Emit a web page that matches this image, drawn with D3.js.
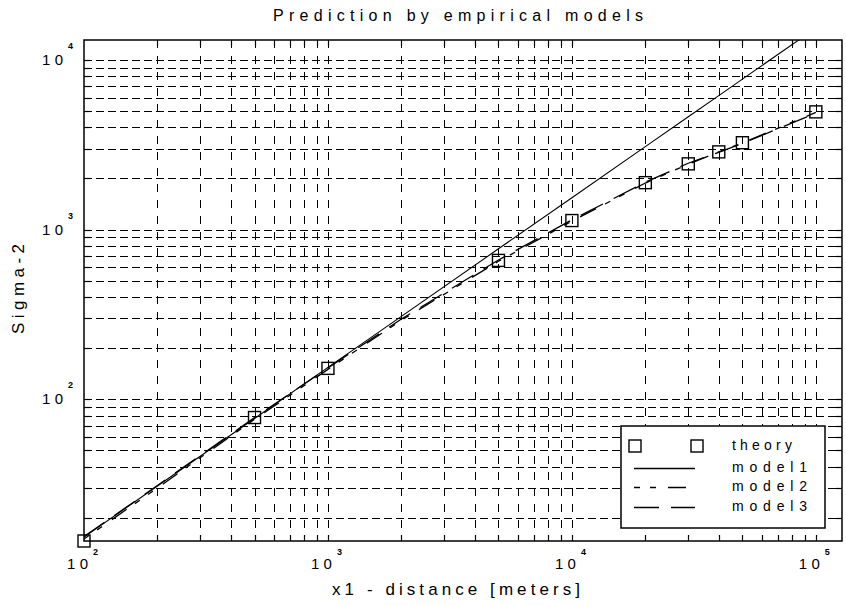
<!DOCTYPE html>
<html>
<head>
<meta charset="utf-8">
<script src="https://cdn.jsdelivr.net/npm/d3@7"></script>
<style>
  body { margin: 0; background: #fff; }
  text { font-family: "Liberation Sans", Arial, sans-serif; fill: #000; }
</style>
</head>
<body>
<div id="chart"></div>
<script>
// values
var theoryX = [100, 500, 1000, 5000, 10000, 20000, 30000, 40000, 50000, 100000];
var theoryY = [14.6, 78, 152, 658, 1130, 1890, 2440, 2870, 3250, 4940];

var modelX  = [100, 200, 500, 1000, 2000, 5000, 10000, 20000, 30000, 40000, 50000, 100000];
var model1Y = [15.4, 30.8, 77, 154, 308, 770, 1540, 3080, 4620, 6160, 7700, 15400];
var model2Y = [15.0, 30, 76, 150, 292, 650, 1120, 1880, 2430, 2870, 3240, 4900];
var model3Y = [15.5, 31, 78, 153, 297, 662, 1140, 1900, 2460, 2850, 3220, 4850];

var xDecades = [100, 1000, 10000, 100000];
var yDecades = [100, 1000, 10000];
var legendNames = ["theory", "model1", "model2", "model3"];

var width = 846, height = 606;
var margin = {top: 40, right: 4, bottom: 65, left: 84};
var x0 = margin.left, x1 = width - margin.right,
    y0 = margin.top, y1 = height - margin.bottom;

var svg = d3.select('#chart')
  .append("svg")
    .attr("width", width)
    .attr("height", height);

var x = d3.scaleLog().domain([100, 128000]).range([x0, x1]);
var y = d3.scaleLog().domain([14.6, 13100]).range([y1, y0]);

svg.append("clipPath").attr("id", "plotclip")
  .append("rect")
    .attr("x", x0).attr("y", y0)
    .attr("width", x1 - x0).attr("height", y1 - y0);

// grid
var xt = x.ticks().filter(function(d) { return x(d) > x0 + 1 && x(d) < x1 - 1; });
var yt = y.ticks().filter(function(d) { return y(d) > y0 + 1 && y(d) < y1 - 1; });

var grid = svg.append("g").attr("stroke", "#000").attr("stroke-width", 1);
grid.selectAll(".vg").data(xt).enter().append("line")
  .attr("x1", function(d) { return Math.round(x(d)) + 0.5; })
  .attr("x2", function(d) { return Math.round(x(d)) + 0.5; })
  .attr("y1", y0).attr("y2", y1)
  .attr("stroke-dasharray", "8,8");
grid.selectAll(".hg").data(yt).enter().append("line")
  .attr("y1", function(d) { return Math.round(y(d)) + 0.5; })
  .attr("y2", function(d) { return Math.round(y(d)) + 0.5; })
  .attr("x1", x0).attr("x2", x1)
  .attr("stroke-dasharray", "8,4");

// ticks inward on all four sides
var tk = svg.append("g").attr("stroke", "#000").attr("stroke-width", 1.2);
xt.forEach(function(d) {
  var px = Math.round(x(d)) + 0.5;
  tk.append("line").attr("x1", px).attr("x2", px).attr("y1", y1).attr("y2", y1 - 6);
  tk.append("line").attr("x1", px).attr("x2", px).attr("y1", y0).attr("y2", y0 + 6);
});
yt.forEach(function(d) {
  var py = Math.round(y(d)) + 0.5;
  tk.append("line").attr("y1", py).attr("y2", py).attr("x1", x0).attr("x2", x0 + 6);
  tk.append("line").attr("y1", py).attr("y2", py).attr("x1", x1).attr("x2", x1 - 6);
});

// frame
svg.append("rect")
  .attr("x", x0).attr("y", y0)
  .attr("width", x1 - x0).attr("height", y1 - y0)
  .attr("fill", "none").attr("stroke", "#000").attr("stroke-width", 1.5);

// lines
var line = d3.line()
  .x(function(d) { return x(d[0]); })
  .y(function(d) { return y(d[1]); });

var lines = svg.append("g").attr("clip-path", "url(#plotclip)")
  .attr("fill", "none").attr("stroke", "#000");

lines.append("path")
  .attr("d", line(d3.zip(modelX, model1Y)))
  .attr("stroke-width", 1.1);
lines.append("path")
  .attr("d", line(d3.zip(modelX, model2Y)))
  .attr("stroke-width", 1.3)
  .attr("stroke-dasharray", "6,10,6,12,18,10");
lines.append("path")
  .attr("d", line(d3.zip(modelX, model3Y)))
  .attr("stroke-width", 1.3)
  .attr("stroke-dasharray", "25,12");

// theory markers
svg.append("g").selectAll("rect")
  .data(d3.zip(theoryX, theoryY))
  .enter().append("rect")
    .attr("x", function(d) { return x(d[0]) - 6; })
    .attr("y", function(d) { return y(d[1]) - 6; })
    .attr("width", 12).attr("height", 12)
    .attr("fill", "none").attr("stroke", "#000").attr("stroke-width", 1.4);

// tick labels
var lab = svg.append("g");
xDecades.forEach(function(d) {
  var px = x(d);
  lab.append("text").attr("x", px + 4).attr("y", 569)
    .attr("text-anchor", "end").attr("font-size", 15)
    .attr("textLength", 21).attr("lengthAdjust", "spacing")
    .text("10");
  lab.append("text").attr("x", px + 9).attr("y", 555)
    .attr("font-size", 9).attr("font-weight", "bold")
    .text(String(Math.round(Math.log10(d))));
});
yDecades.forEach(function(d) {
  var py = y(d);
  lab.append("text").attr("x", 63).attr("y", py + 5)
    .attr("text-anchor", "end").attr("font-size", 15)
    .attr("textLength", 21).attr("lengthAdjust", "spacing")
    .text("10");
  lab.append("text").attr("x", 68).attr("y", py - 11)
    .attr("font-size", 9).attr("font-weight", "bold")
    .text(String(Math.round(Math.log10(d))));
});

// titles
svg.append("text").attr("x", 273).attr("y", 21)
  .attr("font-size", 16).attr("textLength", 370).attr("lengthAdjust", "spacing")
  .text("Prediction by empirical models");
svg.append("text").attr("x", 332).attr("y", 595)
  .attr("font-size", 17).attr("textLength", 248).attr("lengthAdjust", "spacing")
  .text("x1 - distance [meters]");
svg.append("text")
  .attr("transform", "translate(24,334) rotate(-90)")
  .attr("font-size", 17).attr("textLength", 90).attr("lengthAdjust", "spacing")
  .text("Sigma-2");

// legend
var lg = svg.append("g");
lg.append("rect")
  .attr("x", 621).attr("y", 426).attr("width", 204).attr("height", 102)
  .attr("fill", "#fff").attr("stroke", "#000").attr("stroke-width", 1.5);
var rowY = [446, 468, 487, 507];
lg.append("rect").attr("x", 629).attr("y", rowY[0] - 6).attr("width", 12).attr("height", 12)
  .attr("fill", "none").attr("stroke", "#000").attr("stroke-width", 1.4);
lg.append("rect").attr("x", 691).attr("y", rowY[0] - 6).attr("width", 12).attr("height", 12)
  .attr("fill", "none").attr("stroke", "#000").attr("stroke-width", 1.4);
var dashes = [null, null, "6,10,6,12,18,10", "25,12"];
[1, 2, 3].forEach(function(i) {
  lg.append("line").attr("x1", 634).attr("x2", 695)
    .attr("y1", rowY[i] + 0.5).attr("y2", rowY[i] + 0.5)
    .attr("stroke", "#000").attr("stroke-width", 1.3)
    .attr("stroke-dasharray", dashes[i]);
});
legendNames.forEach(function(n, i) {
  lg.append("text").attr("x", 732).attr("y", rowY[i] + 4)
    .attr("font-size", 14)
    .attr("textLength", i === 0 ? 60 : 75).attr("lengthAdjust", "spacing")
    .text(n);
});
</script>
</body>
</html>
